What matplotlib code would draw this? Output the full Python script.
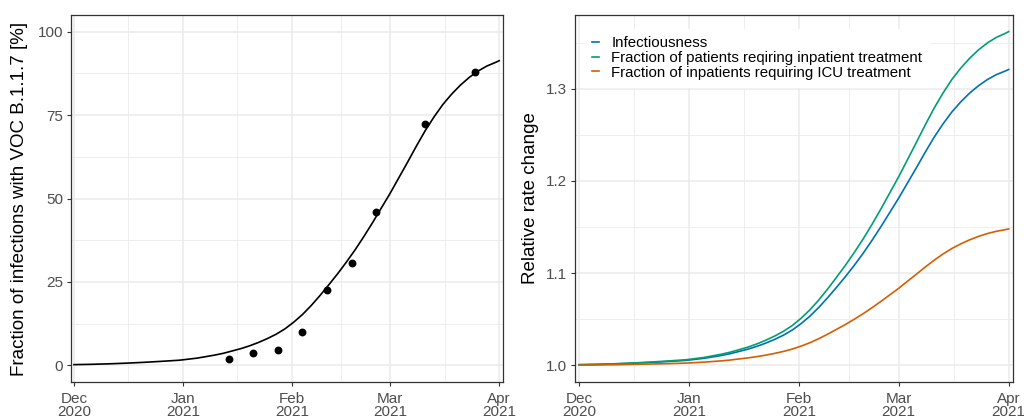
import matplotlib
matplotlib.use("Agg")
import matplotlib.pyplot as plt
from matplotlib.ticker import MultipleLocator
import pandas as pd

plt.rcParams['font.family'] = ['Liberation Sans', 'DejaVu Sans']

# ---------------- data ----------------
base_date = "2020-12-01"
# observed weekly VOC fractions (left panel)
obs_dates = ["2021-01-14", "2021-01-21", "2021-01-28", "2021-02-04", "2021-02-11",
             "2021-02-18", "2021-02-25", "2021-03-11", "2021-03-25"]
obs_pct = [1.8, 3.6, 4.7, 10.0, 22.7, 30.8, 46.0, 72.2, 88.0]

# curves read at day offsets from 1 Dec 2020
curve_days = [0, 5, 10, 15, 20, 25, 30, 35, 40, 42.5, 45, 47.5, 50, 52.5, 55, 57.5,
              60, 62.5, 65, 67.5, 70, 72.5, 75, 77.5, 80, 82.5, 85, 87.5, 90, 92.5,
              95, 97.5, 100, 102.5, 105, 107.5, 110, 112.5, 115, 117.5, 120, 121]
fit_pct = [0.2, 0.3, 0.45, 0.65, 0.9, 1.2, 1.53, 2.15, 3.05, 3.6, 4.3, 5.0, 5.85,
           6.85, 8.0, 9.3, 10.9, 12.9, 15.2, 17.9, 20.9, 24.1, 27.4, 30.9, 34.6,
           38.6, 42.8, 47.2, 51.6, 56.3, 61.0, 65.8, 70.4, 74.5, 78.2, 81.3, 84.0,
           86.3, 88.2, 89.7, 90.8, 91.3]

# relative rate changes (right panel)
infectiousness = [1.0007, 1.0011, 1.0016, 1.0023, 1.0032, 1.0042, 1.0054, 1.0076,
                  1.0107, 1.0127, 1.0151, 1.0176, 1.0206, 1.0241, 1.0281, 1.0327,
                  1.0383, 1.0453, 1.0534, 1.0629, 1.0735, 1.0847, 1.0963, 1.1086,
                  1.1216, 1.1357, 1.1504, 1.1659, 1.1814, 1.1979, 1.2144, 1.2313,
                  1.2475, 1.2619, 1.2749, 1.2858, 1.2953, 1.3033, 1.3100, 1.3153,
                  1.3192, 1.3209]
inpatient = [1.0008, 1.0012, 1.0018, 1.0026, 1.0036, 1.0048, 1.0061, 1.0085,
             1.0121, 1.0143, 1.0170, 1.0198, 1.0232, 1.0272, 1.0317, 1.0369,
             1.0432, 1.0511, 1.0603, 1.0710, 1.0829, 1.0956, 1.1086, 1.1225,
             1.1372, 1.1530, 1.1697, 1.1871, 1.2046, 1.2232, 1.2419, 1.2609,
             1.2791, 1.2954, 1.3101, 1.3224, 1.3331, 1.3422, 1.3497, 1.3557,
             1.3600, 1.3620]
icu = [1.0003, 1.0005, 1.0007, 1.0011, 1.0015, 1.0019, 1.0025, 1.0035,
       1.0049, 1.0058, 1.0070, 1.0081, 1.0095, 1.0111, 1.0130, 1.0151,
       1.0177, 1.0209, 1.0246, 1.0290, 1.0339, 1.0391, 1.0444, 1.0501,
       1.0561, 1.0626, 1.0694, 1.0765, 1.0836, 1.0913, 1.0989, 1.1067,
       1.1141, 1.1208, 1.1268, 1.1318, 1.1362, 1.1399, 1.1430, 1.1454,
       1.1472, 1.1480]

series_labels = ["Infectiousness",
                 "Fraction of patients reqiring inpatient treatment",
                 "Fraction of inpatients requiring ICU treatment"]
series_colors = ["#0072B2", "#009E73", "#D55E00"]

tick_dates = ["2020-12-01", "2021-01-01", "2021-02-01", "2021-03-01", "2021-04-01"]
tick_labels = ["Dec\n2020", "Jan\n2021", "Feb\n2021", "Mar\n2021", "Apr\n2021"]
minor_dates = ["2020-12-16 12:00", "2021-01-16 12:00", "2021-02-15 00:00", "2021-03-16 12:00"]

# ---------------- figure ----------------
W, H = 1024, 419
fig = plt.figure(figsize=(W / 100, H / 100), dpi=100)

def axrect(x0, y0, x1, y1):
    return [x0 / W, 1 - y1 / H, (x1 - x0) / W, (y1 - y0) / H]

ax1 = fig.add_axes(axrect(71, 15, 503, 382))
ax2 = fig.add_axes(axrect(575, 15, 1013.3, 382))

b = pd.Timestamp(base_date)
cx = [b + pd.Timedelta(days=d) for d in curve_days]
ticks = pd.to_datetime(tick_dates)
minors = pd.to_datetime(minor_dates, format="%Y-%m-%d %H:%M")

grid_major = "#EBEBEB"
border_col = "#333333"
tick_col = "#4D4D4D"
tfs = 11

def style(ax, xl):
    ax.set_facecolor("white")
    ax.set_xlim(xl)
    ax.set_xticks(ticks)
    ax.set_xticklabels(tick_labels, linespacing=0.92)
    ax.set_xticks(minors, minor=True)
    ax.grid(True, which="major", color=grid_major, lw=1.1, zorder=0)
    ax.grid(True, which="minor", color=grid_major, lw=0.6, zorder=0)
    ax.set_axisbelow(True)
    for s in ax.spines.values():
        s.set_color(border_col)
        s.set_linewidth(0.9)
    ax.tick_params(which="major", length=3, width=0.8, color=border_col,
                   labelsize=tfs, labelcolor=tick_col, pad=2.5)
    ax.tick_params(axis="x", which="major", pad=4)
    ax.tick_params(which="minor", length=0)

# left panel
style(ax1, (b - pd.Timedelta(days=0.85), pd.Timestamp("2021-04-01") + pd.Timedelta(days=1.1)))
ax1.set_ylim(-5, 105)
ax1.set_yticks([0, 25, 50, 75, 100])
ax1.yaxis.set_minor_locator(MultipleLocator(12.5))
ax1.plot(cx, fit_pct, color="black", lw=1.2, zorder=3, solid_joinstyle="round")
ax1.scatter(pd.to_datetime(obs_dates), obs_pct, s=32, color="black", zorder=4, linewidths=0)

# right panel
style(ax2, (b - pd.Timedelta(days=1.2), pd.Timestamp("2021-04-01") + pd.Timedelta(days=1.3)))
ax2.set_ylim(0.982, 1.380)
ax2.set_yticks([1.0, 1.1, 1.2, 1.3])
ax2.set_yticklabels(["1.0", "1.1", "1.2", "1.3"])
ax2.yaxis.set_minor_locator(MultipleLocator(0.05))
for vals, lab, col in zip([infectiousness, inpatient, icu], series_labels, series_colors):
    ax2.plot(cx, vals, color=col, lw=1.2, label=lab, zorder=3, solid_joinstyle="round")

leg = ax2.legend(loc="upper left", bbox_to_anchor=(0.012, 0.975), frameon=True,
                 fancybox=False, edgecolor="white", facecolor="white", framealpha=1,
                 fontsize=10.8, handlelength=0.42, handletextpad=0.85, labelspacing=0.05,
                 borderpad=0.5, borderaxespad=0.3)
leg.set_zorder(5)

# axis titles
fig.text(20 / W, 1 - 198.5 / H, "Fraction of infections with VOC B.1.1.7 [%]",
         rotation=90, ha="center", va="center", fontsize=13.5)
fig.text(530.5 / W, 1 - 198.5 / H, "Relative rate change",
         rotation=90, ha="center", va="center", fontsize=13.5)

fig.savefig("out.png", dpi=100, facecolor="white")
